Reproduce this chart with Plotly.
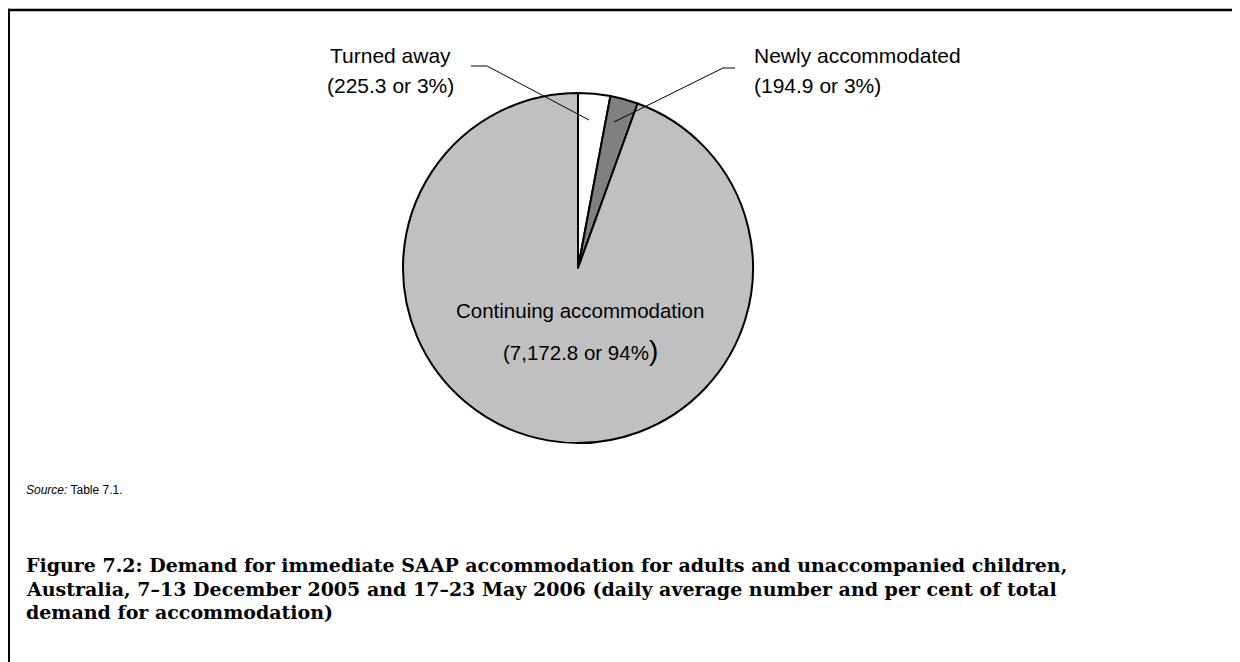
import plotly.graph_objects as go

# daily average demand for immediate SAAP accommodation
labels = ["Turned away", "Newly accommodated", "Continuing accommodation"]
values = [225.3, 194.9, 7172.8]
percents = ["3%", "3%", "94%"]
colors = ["#ffffff", "#808080", "#c0c0c0"]

# page body has an 8px margin, so the figure is drawn 8px in from the window corner
OFF = 8
W, H = 1240 - OFF, 662 - OFF


def px(x):
    return (x - OFF) / W


def py(y):
    return 1 - (y - OFF) / H


fig = go.Figure()
fig.add_trace(go.Pie(
    labels=labels, values=values, sort=False, direction="clockwise", rotation=0,
    textinfo="none", hoverinfo="label+value+percent",
    marker=dict(colors=colors, line=dict(color="black", width=2)),
    domain=dict(x=[px(403), px(753)], y=[py(443), py(93)]),
))

lab_font = dict(family="Liberation Sans, Arial", size=21, color="black")
ann = []
ann.append(dict(x=px(390), y=py(55), text="Turned away", font=lab_font))
ann.append(dict(x=px(390), y=py(85), text=f"({values[0]:,.1f} or {percents[0]})", font=lab_font))
ann.append(dict(x=px(752), y=py(55), text="Newly accommodated", font=lab_font, xanchor="left"))
ann.append(dict(x=px(752), y=py(86), text=f"({values[1]:,.1f} or {percents[1]})", font=lab_font, xanchor="left"))
ann.append(dict(x=px(580), y=py(310), text="Continuing accommodation", font=dict(lab_font, size=20.5)))
ann.append(dict(x=px(580), y=py(350),
                text=f"({values[2]:,.1f} or {percents[2]}<span style='font-size:28px'>)</span>",
                font=dict(lab_font, size=20.5)))
for a in ann:
    a.setdefault("xanchor", "center")
    a.update(xref="paper", yref="paper", yanchor="middle", showarrow=False)

ann.append(dict(x=px(24), y=py(490), xref="paper", yref="paper", xanchor="left", yanchor="middle",
                showarrow=False, text="<i>Source:</i> Table 7.1.",
                font=dict(family="Liberation Sans, Arial", size=12, color="black")))

title_lines = [
    "Figure 7.2: Demand for immediate SAAP accommodation for adults and unaccompanied children,",
    "Australia, 7\u201313 December 2005 and 17\u201323 May 2006 (daily average number and per cent of total",
    "demand for accommodation)",
]
for i, t in enumerate(title_lines):
    ann.append(dict(x=px(24), y=py(565 + 23.5 * i), xref="paper", yref="paper", xanchor="left",
                    yanchor="middle", showarrow=False, text=f"<b>{t}</b>",
                    font=dict(family="DejaVu Serif, serif", size=19, color="black")))

shapes = [
    # leader lines
    dict(type="path", path=f"M {px(471)} {py(66)} L {px(487)} {py(66)} L {px(589)} {py(120)}",
         xref="paper", yref="paper", line=dict(color="black", width=1)),
    dict(type="path", path=f"M {px(735)} {py(68)} L {px(723)} {py(68)} L {px(614)} {py(122)}",
         xref="paper", yref="paper", line=dict(color="black", width=1)),
    # frame (left and top)
    dict(type="line", x0=px(8.7), x1=px(8.7), y0=py(8.8), y1=0, xref="paper", yref="paper",
         line=dict(color="black", width=2.5)),
    dict(type="line", x0=px(7.5), x1=1, y0=py(10), y1=py(10), xref="paper", yref="paper",
         line=dict(color="black", width=2.5)),
]

fig.update_layout(
    width=W, height=H,
    margin=dict(l=0, r=0, t=0, b=0),
    showlegend=False,
    paper_bgcolor="white",
    plot_bgcolor="white",
    annotations=ann,
    shapes=shapes,
)

fig.write_html("out.html")
